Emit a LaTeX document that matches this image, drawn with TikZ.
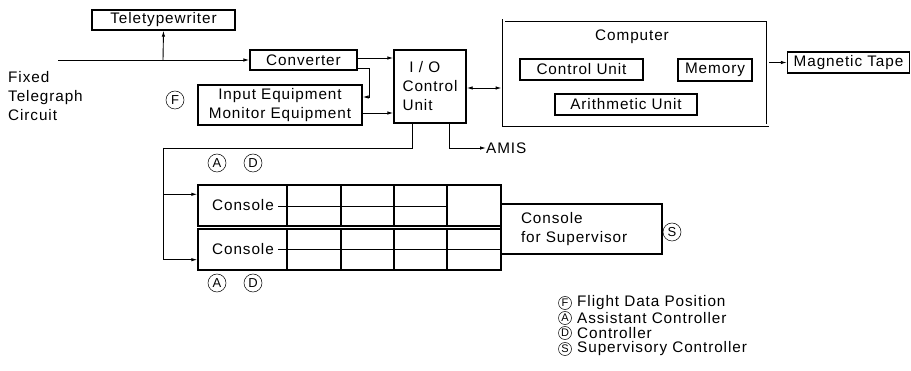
\documentclass[tikz,border=0pt]{standalone}
\usepackage{fontspec}
\setmainfont{Liberation Sans}[LetterSpace=6]
\usetikzlibrary{arrows.meta,calc}
\newcommand{\fs}{\fontsize{15.3}{19}\selectfont}
\newcommand{\fc}{\fontsize{13}{13}\selectfont}
\begin{document}
\begin{tikzpicture}[x=1pt,y=-1pt,
  box/.style={draw, line width=1.4pt, inner sep=0pt, font=\fs},
  conn/.style={line width=0.9pt, -{Latex[length=6pt,width=3.5pt]}},
  plain/.style={line width=0.9pt},
  gridl/.style={line width=1.1pt},
  lbl/.style={inner sep=0pt, font=\fs},
  circlab/.style={draw, circle, line width=0.5pt, inner sep=0pt, minimum size=18pt, font=\fc},
  legcirc/.style={draw, circle, line width=0.5pt, inner sep=0pt, minimum size=13pt, font=\fontsize{11}{11}\selectfont}]
\useasboundingbox (0,0) rectangle (911,371);

% boxes
\node[box, minimum width=143pt, minimum height=20pt] (tty) at (163.5,20) {Teletypewriter};
\node[box, minimum width=107pt, minimum height=20pt] (conv) at (303.5,60) {Converter};
\node[box, minimum width=164pt, minimum height=40pt, align=center] (input) at (280,105) {Input Equipment\\Monitor Equipment};
\node[box, minimum width=72pt, minimum height=73pt, align=left] (io) at (430,86.5) {\hspace*{0.45em}I / O\\Control\\Unit};
\node[draw, double, double distance=2pt, line width=0.9pt, inner sep=0pt, minimum width=264pt, minimum height=105pt] (comp) at (635.5,73) {};
\node[lbl] (comptxt) at (632,37) {Computer};
\node[box, minimum width=123pt, minimum height=21pt] (cu) at (581.5,69.5) {Control Unit};
\node[box, minimum width=74pt, minimum height=22pt] (mem) at (715,70) {Memory};
\node[box, minimum width=142pt, minimum height=21pt] (arith) at (626,104.5) {Arithmetic Unit};
\node[box, minimum width=122pt, minimum height=21pt] (tape) at (848.5,62.5) {Magnetic Tape};

\node[lbl, anchor=west, align=left] (fixed) at (8,96) {Fixed\\Telegraph\\Circuit};
\node[circlab] (cF) at (175,100) {F};

% consoles
\node[box, minimum width=303pt, minimum height=41pt] (con1) at (349.5,205.5) {};
\node[box, minimum width=303pt, minimum height=41pt] (con2) at (349.5,249.5) {};
\foreach \x in {287,341,394,447} {
  \draw[gridl] (\x,185) -- (\x,226);
  \draw[gridl] (\x,229) -- (\x,270);
}
\draw[plain] (278,206) -- (447,206);
\draw[plain] (278,249) -- (501,249);
\node[lbl, fill=white, inner xsep=2pt] (c1txt) at (243,205) {Console};
\node[lbl, fill=white, inner xsep=2pt] (c2txt) at (243,249) {Console};
\node[box, minimum width=161pt, minimum height=50pt, text width=121pt, align=left] (sup) at (581.5,229) {Console\\for Supervisor};
\node[circlab] (cS) at (672,232) {S};
\node[circlab] (cA1) at (217,163) {A};
\node[circlab] (cD1) at (253,163) {D};
\node[circlab] (cA2) at (217,283) {A};
\node[circlab] (cD2) at (253,283) {D};

% connectors
\coordinate (start) at (58,60);
\coordinate (branch) at (163,60);
\draw[conn] (start) -- (conv.west);
\draw[conn] (branch) -- (tty.south);
\draw[conn] ([yshift=2pt]conv.east) -- ([yshift=2pt]conv.east -| io.west);
\draw[conn] ([yshift=-8pt]conv.east) -- ++(12,0) |- ([yshift=8pt]input.east);
\draw[conn] ([yshift=-8pt]input.east) -- ([yshift=-8pt]input.east -| io.west);
\draw[line width=0.9pt, {Latex[length=6pt,width=3.5pt]}-{Latex[length=6pt,width=3.5pt]}, shorten >=1.5pt] ([yshift=-1.5pt]io.east) -- ([yshift=-1.5pt]io.east -| comp.west);
\draw[conn, shorten <=1.5pt] (tape.west -| comp.east) -- (tape.west);

\coordinate (bus) at (163,148);
\draw[plain] ([xshift=-18pt]io.south) |- (bus);
\draw[conn] (bus) |- ([yshift=-10pt]con1.north west);
\draw[conn] (bus) |- ([yshift=11pt]con2.south west);
\node[lbl, anchor=west] (amis) at (486,148) {AMIS};
\draw[conn] ([xshift=19pt]io.south) |- (amis.west);

% legend
\node[legcirc] (lF) at (565,303) {F};
\node[legcirc] (lA) at (565,318) {A};
\node[legcirc] (lD) at (565,333) {D};
\node[legcirc] (lS) at (565,349) {S};
\node[lbl, anchor=west] (tF) at (577,303) {Flight Data Position};
\node[lbl, anchor=west] (tA) at (577,318) {Assistant Controller};
\node[lbl, anchor=west] (tD) at (577,333) {Controller};
\node[lbl, anchor=west] (tS) at (577,349) {Supervisory Controller};
\end{tikzpicture}
\end{document}
